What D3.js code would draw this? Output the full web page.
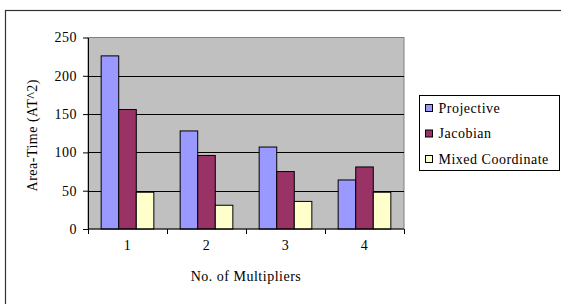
<!DOCTYPE html>
<html lang="en">
<head>
<meta charset="UTF-8">
<title>Area-Time chart</title>
<script src="https://d3js.org/d3.v7.min.js"></script>
<style>
  body { margin: 0; background: #fff; }
</style>
</head>
<body>
<script>
const categories = ["1", "2", "3", "4"];
const seriesNames = ["Projective", "Jacobian", "Mixed Coordinate"];
const projective = [226, 128, 107, 64];
const jacobian = [156, 96, 75, 81];
const mixed = [48, 31, 36, 48];
const yTicks = [0, 50, 100, 150, 200, 250];
const colors = ["#9999ff", "#993366", "#ffffcc"];

const seriesValues = [projective, jacobian, mixed];
const rows = categories.map((c, i) => ({
  cat: c,
  vals: seriesNames.map((s, j) => ({ name: s, value: seriesValues[j][i] }))
}));

const w = 561, h = 304;
const plotL = 88, plotR = 404, plotT = 37.5, plotB = 229;

const svg = d3.select("body").append("svg")
  .attr("width", w)
  .attr("height", h);

// outer frame
svg.append("rect")
  .attr("x", 5.5).attr("y", 10.5)
  .attr("width", w + 10).attr("height", h + 10)
  .attr("fill", "none")
  .attr("stroke", "#333")
  .attr("stroke-width", 1.2);

const x0 = d3.scaleBand().domain(categories).range([plotL, plotR]);
const x1 = d3.scaleBand().domain(seriesNames).range([0, x0.bandwidth()]).paddingOuter(0.75);
const y = d3.scaleLinear().domain([0, 250]).range([plotB, plotT]);
const color = d3.scaleOrdinal().domain(seriesNames).range(colors);

// plot background
svg.append("rect")
  .attr("x", plotL).attr("y", plotT)
  .attr("width", plotR - plotL).attr("height", plotB - plotT)
  .attr("fill", "#c0c0c0")
  .attr("stroke", "#808080");

// gridlines
svg.append("g")
  .selectAll("line")
  .data(yTicks.filter(d => d > 0 && d < 250))
  .join("line")
  .attr("x1", plotL).attr("x2", plotR)
  .attr("y1", d => Math.round(y(d)) + 0.5)
  .attr("y2", d => Math.round(y(d)) + 0.5)
  .attr("stroke", "#000");

// bars
svg.append("g")
  .selectAll("g")
  .data(rows)
  .join("g")
  .attr("transform", d => "translate(" + x0(d.cat) + ",0)")
  .selectAll("rect")
  .data(d => d.vals)
  .join("rect")
  .attr("x", d => x1(d.name))
  .attr("y", d => y(d.value))
  .attr("width", x1.bandwidth())
  .attr("height", d => y(0) - y(d.value))
  .attr("fill", d => color(d.name))
  .attr("stroke", "#000")
  .attr("stroke-width", 1);

// y axis
const yAxis = svg.append("g")
  .attr("transform", "translate(" + plotL + ",0)")
  .call(d3.axisLeft(y).tickValues(yTicks).tickSize(5).tickPadding(6).tickSizeOuter(0));
yAxis.select(".domain").attr("stroke", "#000");

// x axis: ticks at category boundaries
const xAxis = svg.append("g")
  .attr("transform", "translate(0," + plotB + ")");
xAxis.append("line")
  .attr("x1", plotL).attr("x2", plotR)
  .attr("stroke", "#000");
xAxis.selectAll(".tk")
  .data(categories.concat(["end"]))
  .join("line")
  .attr("class", "tk")
  .attr("x1", (d, i) => Math.round(plotL + i * x0.step()) + 0.5)
  .attr("x2", (d, i) => Math.round(plotL + i * x0.step()) + 0.5)
  .attr("y1", 0).attr("y2", 5)
  .attr("stroke", "#000");
xAxis.selectAll("text")
  .data(categories)
  .join("text")
  .attr("x", d => x0(d) + x0.bandwidth() / 2)
  .attr("y", 21)
  .attr("text-anchor", "middle")
  .text(d => d);

// axis titles
svg.append("text")
  .attr("transform", "translate(37," + ((plotT + plotB) / 2 + 2) + ") rotate(-90)")
  .attr("text-anchor", "middle")
  .text("Area-Time (AT^2)");

svg.append("text")
  .attr("x", (plotL + plotR) / 2)
  .attr("y", 281)
  .attr("text-anchor", "middle")
  .text("No. of Multipliers");

// legend
const legend = svg.append("g");
legend.append("rect")
  .attr("x", 419.5).attr("y", 95.5)
  .attr("width", 140).attr("height", 75)
  .attr("fill", "#fff")
  .attr("stroke", "#000");
const li = legend.selectAll(".item")
  .data(seriesNames)
  .join("g")
  .attr("class", "item")
  .attr("transform", (d, i) => "translate(425," + (108 + i * 25.5) + ")");
li.append("rect")
  .attr("x", 0.5).attr("y", -3.5)
  .attr("width", 7).attr("height", 7)
  .attr("fill", d => color(d))
  .attr("stroke", "#000");
li.append("text")
  .attr("x", 13.5)
  .attr("y", 4.5)
  .text(d => d);

// serif text everywhere, set inline so nothing overrides it
svg.selectAll("text")
  .style("font-family", "'Liberation Serif'")
  .style("font-size", "14px")
  .style("letter-spacing", "0.5px")
  .style("fill", "#000");
</script>
</body>
</html>
